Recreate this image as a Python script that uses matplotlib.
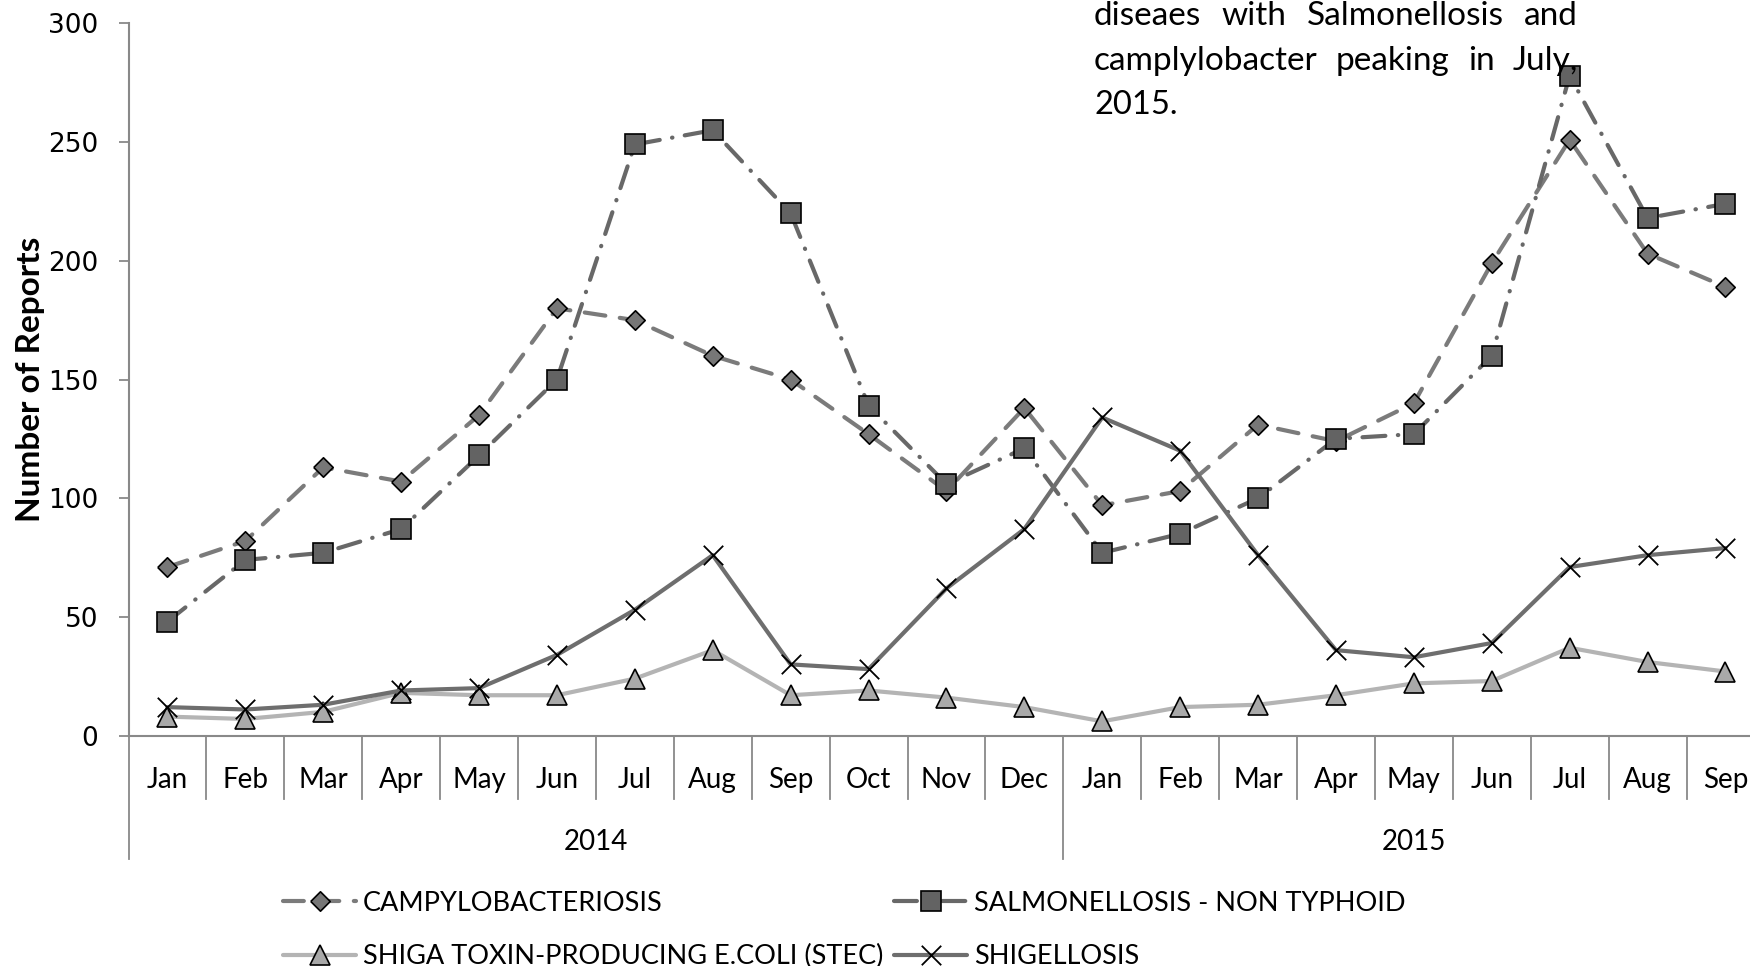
import numpy as np
import matplotlib
matplotlib.use('Agg')
import matplotlib.pyplot as plt
from matplotlib.path import Path
import matplotlib.transforms as mtransforms

# Monthly reports, Jan 2014 - Sep 2015
months = ["Jan", "Feb", "Mar", "Apr", "May", "Jun", "Jul", "Aug", "Sep", "Oct", "Nov", "Dec",
          "Jan", "Feb", "Mar", "Apr", "May", "Jun", "Jul", "Aug", "Sep"]
years = ["2014", "2015"]
year_counts = [12, 9]

campylo = [71, 82, 113, 107, 135, 180, 175, 160, 150, 127, 103, 138,
           97, 103, 131, 124, 140, 199, 251, 203, 189]
salmon = [48, 74, 77, 87, 118, 150, 249, 255, 220, 139, 106, 121,
          77, 85, 100, 125, 127, 160, 278, 218, 224]
stec = [8, 7, 10, 18, 17, 17, 24, 36, 17, 19, 16, 12,
        6, 12, 13, 17, 22, 23, 37, 31, 27]
shigella = [12, 11, 13, 19, 20, 34, 53, 76, 30, 28, 62, 87,
            134, 120, 76, 36, 33, 39, 71, 76, 79]

labels = ["CAMPYLOBACTERIOSIS", "SALMONELLOSIS - NON TYPHOID",
          "SHIGA TOXIN-PRODUCING E.COLI (STEC)", "SHIGELLOSIS"]

note_lines = ["diseaes  with Salmonellosis  and",
              "camplylobacter  peaking  in July,",
              "2015."]

W, H = 1750, 966
fig = plt.figure(figsize=(W / 100, H / 100), dpi=100)
# plot area runs off the right edge, as in the original
ax = fig.add_axes([128.5 / W, 1 - 735.6 / H, (1764.4 - 128.5) / W, (735.6 - 23.4) / H])

x = np.arange(len(months))
diamond = [(-1, 0), (0, 1), (1, 0), (0, -1), (-1, 0)]
cross = Path([(-1, -1), (1, 1), (-1, 1), (1, -1)],
             [Path.MOVETO, Path.LINETO, Path.MOVETO, Path.LINETO])

l1, = ax.plot(x, campylo, color='#7b7b7b', lw=3, linestyle=(0, (5, 3.5)), dash_capstyle='round',
              marker=diamond, ms=14, mfc='#777777', mec='black', mew=1.2, label=labels[0])
l2, = ax.plot(x, salmon, color='#686868', lw=3, linestyle=(0, (5.5, 3, 0.1, 3)), dash_capstyle='round',
              marker='s', ms=14, mfc='#636363', mec='black', mew=1.2, label=labels[1])
l3, = ax.plot(x, stec, color='#b4b4b4', lw=3, solid_capstyle='round',
              marker='^', ms=14, mfc='#a9a9a9', mec='black', mew=1.2, label=labels[2])
l4, = ax.plot(x, shigella, color='#6e6e6e', lw=3, solid_capstyle='round',
              marker=cross, ms=14, mfc='none', mec='black', mew=1.3, label=labels[3])

ax.set_xlim(-0.5, len(months) - 0.5)
ax.set_ylim(0, 300)
ax.set_yticks(range(0, 301, 50))
ax.tick_params(axis='y', length=7, width=1.3, color='#898989', pad=15,
               labelsize=19, labelfontfamily='DejaVu Sans')
ax.set_xticks([])
for s in ['top', 'right']:
    ax.spines[s].set_visible(False)
for s in ['left', 'bottom']:
    ax.spines[s].set_color('#898989')
    ax.spines[s].set_linewidth(1.5)

ax.set_ylabel("Number of Reports", fontsize=24, fontweight='bold', family='Lato', labelpad=2)

# multi-level category axis (months / years)
trans = mtransforms.blended_transform_factory(ax.transData, ax.transAxes)
month_bottom = -0.089
year_bottom = -0.173
year_edges = np.cumsum([0] + year_counts) - 0.5
for b in np.arange(-0.5, len(months) + 0.5, 1.0):
    bottom = year_bottom if np.any(np.isclose(b, year_edges)) else month_bottom
    ax.plot([b, b], [0, bottom], transform=trans, color='#898989', lw=1.3, clip_on=False)
for i, m in enumerate(months):
    ax.text(i, -0.062, m, transform=trans, ha='center', va='center',
            fontsize=20, family='Lato')
for yr, a, b in zip(years, year_edges[:-1], year_edges[1:]):
    ax.text((a + b) / 2, -0.149, yr, transform=trans, ha='center', va='center',
            fontsize=20, family='Lato')

# note text, justified to a common right edge
renderer = fig.canvas.get_renderer()
x0, x1 = 1094 / W, 1578 / W
baselines = [25, 69.5, 114]
for line, yb in zip(note_lines, baselines):
    yf = 1 - yb / H
    words = line.split()
    if len(words) > 1 and line is not note_lines[-1]:
        texts = [fig.text(0, yf, w, fontsize=24, family='Lato', va='baseline') for w in words]
        widths = [t.get_window_extent(renderer).width / W for t in texts]
        gap = (x1 - x0 - sum(widths)) / (len(words) - 1)
        pos = x0
        for t, w in zip(texts, widths):
            t.set_x(pos)
            pos += w + gap
    else:
        fig.text(x0, yf, line, fontsize=23.5, family='Lato', va='baseline')

# legend fills column-wise, so order handles to give the original row layout
fig.legend([l1, l3, l2, l4], [labels[0], labels[2], labels[1], labels[3]],
           loc='center left', bbox_to_anchor=(283 / W, 1 - 930 / H), ncol=2, frameon=False,
           prop={'family': 'Lato', 'size': 19.5}, handlelength=2.7, handletextpad=0.25,
           columnspacing=0.4, labelspacing=1.05, borderpad=0, borderaxespad=0)

fig.savefig('out.png', dpi=100)
